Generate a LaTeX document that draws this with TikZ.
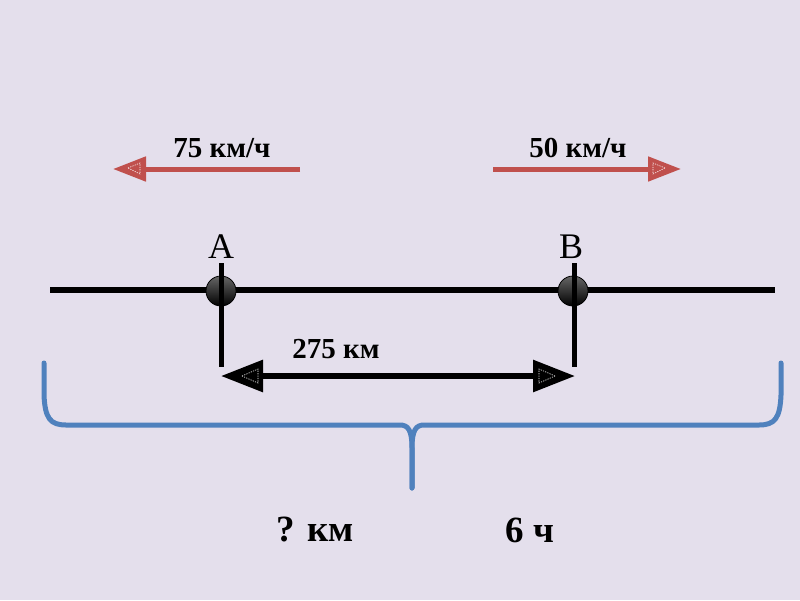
\documentclass[tikz,border=0pt]{standalone}
\usepackage{fontspec}
\setmainfont{Liberation Serif}
\usetikzlibrary{arrows.meta}
\definecolor{bgc}{HTML}{E4DFEC}
\definecolor{redc}{HTML}{C0504D}
\definecolor{bluec}{HTML}{4F81BD}
\tikzset{
  dot/.style={circle, minimum size=30pt, inner sep=0pt, draw=black, line width=0.8pt, top color=black!60, bottom color=black},
  ptlabel/.style={font=\fontsize{36}{38}\selectfont, inner sep=0pt},
  boldlabel/.style={font=\bfseries\fontsize{29}{31}\selectfont, inner sep=0pt},
  biglabel/.style={font=\bfseries\fontsize{37}{40}\selectfont, inner sep=0pt},
  mainline/.style={line width=6pt},
  tick/.style={line width=5pt},
  redarrow/.style={draw=redc, line width=5pt, -{Triangle[length=33pt,width=24pt]}},
  blackarrow/.style={line width=6pt, {Triangle[length=42pt,width=31pt]}-{Triangle[length=42pt,width=31pt]}},
  inner/.style={draw=white, line width=0.6pt, dash pattern=on 1.2pt off 1.2pt},
  brace/.style={draw=bluec, line width=5pt, line cap=round, line join=round},
}
\begin{document}
\begin{tikzpicture}[x=1pt,y=-1pt]
\fill[bgc] (0,0) rectangle (800,600);
\useasboundingbox (0,0) rectangle (800,600);

% main line
\coordinate (L) at (50,290);
\coordinate (R) at (775,290);
\draw[mainline] (L) -- (R);

% verticals and dots
\coordinate (Atop) at (221,263);
\coordinate (Abot) at (221,367);
\coordinate (Btop) at (574,263);
\coordinate (Bbot) at (574,367);
\node[dot] (A) at (221,291) {};
\node[dot] (B) at (573,291) {};
\draw[tick] (Atop) -- (Abot);
\draw[tick] (Btop) -- (Bbot);

\node[ptlabel] (la) at (221,247) {A};
\node[ptlabel] (lb) at (571,247) {B};

% distance arrow
\coordinate (dA) at (221,376);
\coordinate (dB) at (575,376);
\draw[blackarrow] (dA) -- (dB);
\draw[inner] (242,376) -- (258,369) -- (258,383) -- cycle;
\draw[inner] (555,376) -- (539,369) -- (539,383) -- cycle;
\node[boldlabel] (d) at (336,349) {275 км};

% red arrows
\coordinate (r1s) at (300,169);
\coordinate (r1e) at (113,169);
\coordinate (r2s) at (493,169);
\coordinate (r2e) at (681,169);
\draw[redarrow] (r1s) -- (r1e);
\draw[redarrow] (r2s) -- (r2e);
\draw[inner] (128,168) -- (140,163) -- (140,174) -- cycle;
\draw[inner] (665,168) -- (653,163) -- (653,174) -- cycle;
\node[boldlabel] (v1) at (222,148) {75 км/ч};
\node[boldlabel] (v2) at (578,148) {50 км/ч};

% brace
\coordinate (bl) at (44,363);
\coordinate (br) at (781,363);
\coordinate (bt) at (412,488);
\draw[brace] (bl) -- (44,395) .. controls (45,418) and (50,425) .. (66,425)
  -- (400,425) .. controls (408,425) and (412,430) .. (412,448) -- (bt);
\draw[brace] (br) -- (781,395) .. controls (780,418) and (775,425) .. (759,425)
  -- (424,425) .. controls (416,425) and (412,430) .. (412,448) -- (bt);

\node[biglabel] (q) at (315,530) {? км};
\node[biglabel] (t) at (530,530) {6 ч};
\end{tikzpicture}
\end{document}
